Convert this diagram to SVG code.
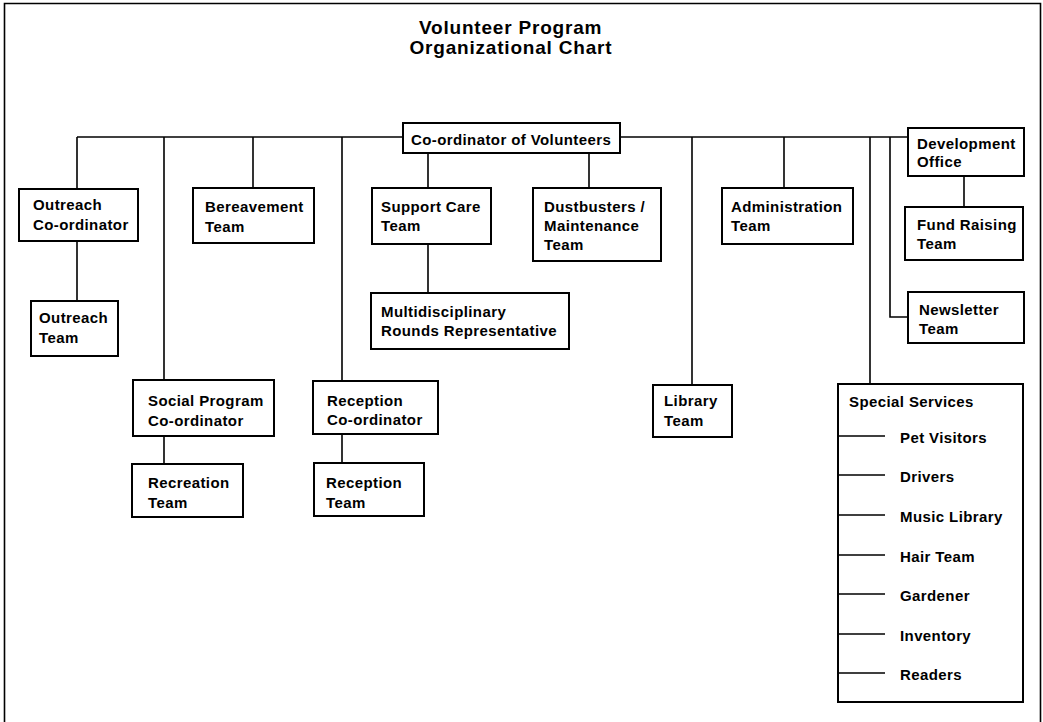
<svg xmlns="http://www.w3.org/2000/svg" width="1043" height="722" viewBox="0 0 1043 722">
<style>
text{font-family:"Liberation Sans",Arial,Helvetica,sans-serif;font-weight:bold;font-size:15px;letter-spacing:0.4px;fill:#000}
.title{font-size:19px;letter-spacing:0.8px}
.box{fill:#fff;stroke:#000;stroke-width:2}
.ln{fill:none;stroke:#000;stroke-width:1.6}
</style>
<rect x="0" y="0" width="1043" height="722" fill="#fff"/>
<path class="ln" d="M4.5,722 V3.5 H1040.5 V722" stroke-width="2"/>
<g id="title">
<text class="title" x="419" y="34">Volunteer Program</text>
<text class="title" x="409.5" y="54">Organizational Chart</text>
</g>
<g id="connectors">
<path class="ln" d="M77,137 H908"/>
<path class="ln" d="M77,137 V189 M77,241 V301"/>
<path class="ln" d="M164,137 V380 M164,436 V464"/>
<path class="ln" d="M253,137 V188"/>
<path class="ln" d="M342,137 V381 M342,434 V463"/>
<path class="ln" d="M428,152 V188 M428,244 V293"/>
<path class="ln" d="M589,152 V188"/>
<path class="ln" d="M692,137 V385"/>
<path class="ln" d="M784,137 V188"/>
<path class="ln" d="M870,137 V384"/>
<path class="ln" d="M890,137 V317 H908"/>
<path class="ln" d="M964,176 V207"/>
</g>
<g id="coordinator">
<rect class="box" x="403" y="123" width="217" height="30"/>
<text x="411" y="145">Co-ordinator of Volunteers</text>
</g>
<g id="outreach-coordinator">
<rect class="box" x="19" y="189" width="119" height="52"/>
<text x="33" y="210">Outreach</text><text x="33" y="230">Co-ordinator</text>
</g>
<g id="outreach-team">
<rect class="box" x="31" y="301" width="87" height="55"/>
<text x="39" y="323">Outreach</text><text x="39" y="343">Team</text>
</g>
<g id="bereavement">
<rect class="box" x="193" y="188" width="121" height="55"/>
<text x="205" y="212">Bereavement</text><text x="205" y="232">Team</text>
</g>
<g id="social-program">
<rect class="box" x="133" y="380" width="141" height="56"/>
<text x="148" y="406">Social Program</text><text x="148" y="426">Co-ordinator</text>
</g>
<g id="recreation">
<rect class="box" x="132" y="464" width="111" height="53"/>
<text x="148" y="488">Recreation</text><text x="148" y="508">Team</text>
</g>
<g id="reception-coordinator">
<rect class="box" x="313" y="381" width="125" height="53"/>
<text x="327" y="406">Reception</text><text x="327" y="425">Co-ordinator</text>
</g>
<g id="reception-team">
<rect class="box" x="314" y="463" width="110" height="53"/>
<text x="326" y="488">Reception</text><text x="326" y="508">Team</text>
</g>
<g id="support-care">
<rect class="box" x="372" y="188" width="119" height="56"/>
<text x="381" y="212">Support Care</text><text x="381" y="231">Team</text>
</g>
<g id="dustbusters">
<rect class="box" x="533" y="188" width="128" height="73"/>
<text x="544" y="212">Dustbusters /</text><text x="544" y="231">Maintenance</text><text x="544" y="250">Team</text>
</g>
<g id="multidisciplinary">
<rect class="box" x="371" y="293" width="198" height="56"/>
<text x="381" y="317">Multidisciplinary</text><text x="381" y="336">Rounds Representative</text>
</g>
<g id="library">
<rect class="box" x="653" y="385" width="79" height="52"/>
<text x="664" y="406">Library</text><text x="664" y="426">Team</text>
</g>
<g id="administration">
<rect class="box" x="722" y="188" width="131" height="56"/>
<text x="731" y="212">Administration</text><text x="731" y="231">Team</text>
</g>
<g id="development">
<rect class="box" x="908" y="128" width="116" height="48"/>
<text x="917" y="149">Development</text><text x="917" y="167">Office</text>
</g>
<g id="fund-raising">
<rect class="box" x="905" y="207" width="118" height="53"/>
<text x="917" y="230">Fund Raising</text><text x="917" y="249">Team</text>
</g>
<g id="newsletter">
<rect class="box" x="908" y="292" width="116" height="51"/>
<text x="919" y="315">Newsletter</text><text x="919" y="334">Team</text>
</g>
<g id="special-services">
<rect class="box" x="838" y="384" width="185" height="318"/>
<text x="849" y="407">Special Services</text>
<path class="ln" d="M838,436 H885 M838,475 H885 M838,515 H885 M838,555 H885 M838,594 H885 M838,634 H885 M838,673 H885"/>
<text x="900" y="442.5">Pet Visitors</text>
<text x="900" y="481.5">Drivers</text>
<text x="900" y="521.5">Music Library</text>
<text x="900" y="561.5">Hair Team</text>
<text x="900" y="600.5">Gardener</text>
<text x="900" y="640.5">Inventory</text>
<text x="900" y="679.5">Readers</text>
</g>
</svg>
